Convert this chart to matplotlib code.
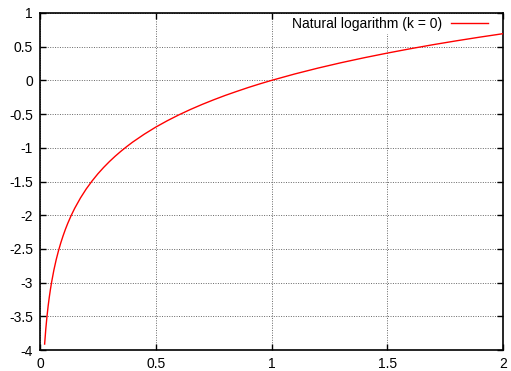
import numpy as np
import matplotlib.pyplot as plt

plt.rcParams['font.family'] = ['Liberation Sans', 'DejaVu Sans']

# values
x_vals = [0.02, 0.025, 0.03, 0.035, 0.04, 0.045, 0.05, 0.06, 0.07, 0.08, 0.09, 0.1, 0.11, 0.12, 0.135,
          0.15, 0.175, 0.2, 0.225, 0.25, 0.275, 0.3, 0.325, 0.35, 0.375, 0.4, 0.45, 0.5, 0.55, 0.6, 0.65, 0.7, 0.75,
          0.8, 0.85, 0.9, 0.95, 1.0, 1.1, 1.2, 1.3, 1.4, 1.5, 1.6, 1.7, 1.8, 1.9, 2.0]
y_vals = [-3.912, -3.689, -3.507, -3.352, -3.219, -3.101, -2.996, -2.813, -2.659, -2.526, -2.408, -2.303, -2.207, -2.12, -2.002,
          -1.897, -1.743, -1.609, -1.492, -1.386, -1.291, -1.204, -1.124, -1.05, -0.981, -0.916, -0.799, -0.693, -0.598,
          -0.511, -0.431, -0.357, -0.288,
          -0.223, -0.163, -0.105, -0.051, 0.0, 0.095, 0.182, 0.262, 0.336, 0.405, 0.47, 0.531, 0.588, 0.642, 0.693]
legend_label = "Natural logarithm (k = 0)"
xticks = [0, 0.5, 1, 1.5, 2]
yticks = [1, 0.5, 0, -0.5, -1, -1.5, -2, -2.5, -3, -3.5, -4]

fig = plt.figure(figsize=(5.11, 3.71), dpi=100)
ax = fig.add_axes([40/511, 21/371, 463/511, 337/371])

ax.plot(x_vals, y_vals, color='red', lw=1, label=legend_label, zorder=6)
ax.set_xlim(0, 2); ax.set_ylim(-4, 1)
ax.set_xticks(xticks); ax.set_xticklabels([f"{t:g}" for t in xticks])
ax.set_yticks(yticks); ax.set_yticklabels([f"{t:g}" for t in yticks])
ax.grid(True, color='#666666', linestyle=(0, (1, 1.5)), lw=0.7)
ax.tick_params(direction='in', top=True, right=True, length=4, width=1, labelsize=10, pad=5)
for s in ax.spines.values():
    s.set_linewidth(1.2)

leg = ax.legend(loc='center right', bbox_to_anchor=(491/511, 1 - 24/371), bbox_transform=fig.transFigure,
                fontsize=10, frameon=True, fancybox=False, edgecolor='none',
                facecolor='white', framealpha=1, markerfirst=False, handlelength=2.7,
                handletextpad=0.6, borderaxespad=0, borderpad=0.2)

fig.savefig("out.png", dpi=100)
